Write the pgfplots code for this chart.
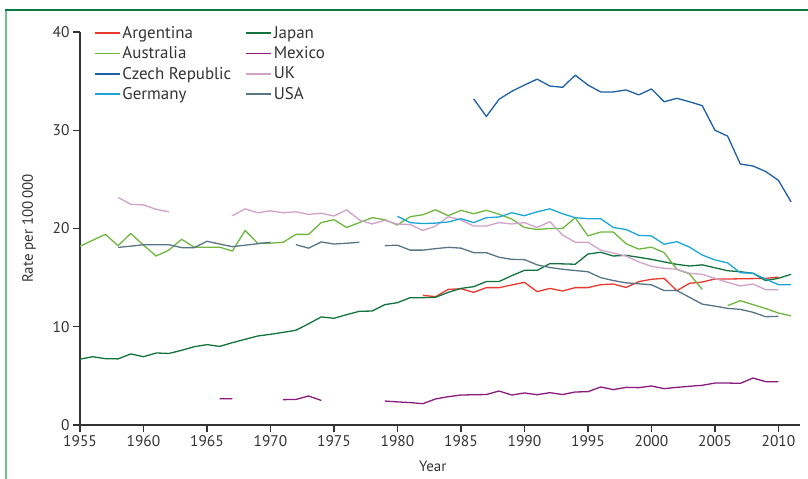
\documentclass[border=0pt]{standalone}
\usepackage{pgfplots}
\pgfplotsset{compat=1.18}
\usepackage{fontspec}
\setmainfont{PT Sans}
\definecolor{cArg}{HTML}{E8392E}
\definecolor{cAus}{HTML}{70B73F}
\definecolor{cCze}{HTML}{1C5FA5}
\definecolor{cGer}{HTML}{1BA6D6}
\definecolor{cJap}{HTML}{12733D}
\definecolor{cMex}{HTML}{8A1A7E}
\definecolor{cUK}{HTML}{CFA2CB}
\definecolor{cUSA}{HTML}{587585}
\definecolor{axgray}{HTML}{333333}
\definecolor{txtgray}{HTML}{333333}
\definecolor{frameT}{HTML}{0B7A3E}
\definecolor{frameL}{HTML}{6CC092}
\begin{document}
\begin{tikzpicture}[x=1bp,y=1bp]
\path[use as bounding box] (0,0) rectangle (808,479);
\draw[color=frameL, line width=1.6bp] (6,0) -- (6,469);
\draw[color=frameT, line width=1.6bp] (5.2,469) -- (808,469);
\begin{axis}[
  at={(80bp,54bp)}, anchor=south west, scale only axis,
  width=720bp, height=393bp,
  xmin=1955, xmax=2011.7, ymin=0, ymax=40,
  axis lines=left, axis line style={-, line width=1.2bp, color=axgray},
  xtick={1955,1960,...,2010}, ytick={0,10,20,30,40},
  tick align=outside, major tick length=7bp,
  tick style={line width=1.2bp, color=axgray},
  ticklabel style={font=\fontsize{15.5}{18}\selectfont, color=txtgray},
  /pgf/number format/assume math mode=true,
  xticklabel style={/pgf/number format/1000 sep={}},
  xlabel={Year}, ylabel={Rate per 100\,000},
  label style={font=\fontsize{15}{18}\selectfont, color=txtgray},
  xlabel style={at={(axis description cs:0.49,-0.104)}, anchor=center},
  ylabel style={yshift=10bp},
  unbounded coords=jump,
  every axis plot/.append style={line width=1.3bp, line join=round},
  legend columns=2, legend cell align=left,
  legend style={at={(axis description cs:0.015,1.025)}, anchor=north west,
    draw=none, fill=none, font=\fontsize{17}{20}\selectfont, text=txtgray,
    row sep=2.8bp, /tikz/every even column/.append style={column sep=12bp}},
  legend image code/.code={\draw[#1, line width=1.5bp] (0bp,0bp) -- (25bp,0bp);},
]
% Argentina
\addplot[color=cArg] coordinates {(1982,13.2)(1983,13.06)(1984,13.8)(1985,13.87)(1986,13.5)(1987,13.98)(1988,13.98)(1989,14.25)(1990,14.52)(1991,13.57)(1992,13.9)(1993,13.64)(1994,13.98)(1995,13.98)(1996,14.28)(1997,14.35)(1998,14.0)(1999,14.59)(2000,14.83)(2001,14.93)(2002,13.67)(2003,14.42)(2004,14.55)(2005,14.86)(2006,14.86)(2007,14.88)(2008,14.9)(2009,14.92)(2010,15.06)};
\addlegendentry{Argentina}
% Japan
\addplot[color=cJap] coordinates {(1955,6.7)(1956,6.95)(1957,6.75)(1958,6.73)(1959,7.23)(1960,6.95)(1961,7.33)(1962,7.28)(1963,7.6)(1964,7.97)(1965,8.18)(1966,8.0)(1967,8.38)(1968,8.72)(1969,9.06)(1970,9.23)(1971,9.43)(1972,9.64)(1973,10.3)(1974,11.0)(1975,10.86)(1976,11.23)(1977,11.57)(1978,11.6)(1979,12.25)(1980,12.45)(1981,12.96)(1982,12.96)(1983,13.0)(1984,13.5)(1985,13.9)(1986,14.08)(1987,14.6)(1988,14.6)(1989,15.2)(1990,15.74)(1991,15.74)(1992,16.42)(1993,16.4)(1994,16.36)(1995,17.4)(1996,17.58)(1997,17.2)(1998,17.27)(1999,17.07)(2000,16.86)(2001,16.6)(2002,16.35)(2003,16.18)(2004,16.3)(2005,16.0)(2006,15.7)(2007,15.6)(2008,15.44)(2009,14.7)(2010,14.93)(2011,15.34)};
\addlegendentry{Japan}
% Australia
\addplot[color=cAus] coordinates {(1955,18.2)(1956,18.8)(1957,19.4)(1958,18.25)(1959,19.5)(1960,18.3)(1961,17.2)(1962,17.8)(1963,18.9)(1964,18.1)(1965,18.1)(1966,18.1)(1967,17.7)(1968,19.8)(1969,18.5)(1970,18.5)(1971,18.6)(1972,19.4)(1973,19.4)(1974,20.6)(1975,20.9)(1976,20.1)(1977,20.6)(1978,21.1)(1979,20.9)(1980,20.36)(1981,21.2)(1982,21.4)(1983,21.9)(1984,21.3)(1985,21.85)(1986,21.5)(1987,21.85)(1988,21.45)(1989,20.97)(1990,20.1)(1991,19.9)(1992,20.0)(1993,20.0)(1994,21.1)(1995,19.24)(1996,19.64)(1997,19.64)(1998,18.45)(1999,17.9)(2000,18.1)(2001,17.55)(2002,15.85)(2003,15.37)(2004,13.8)(2005,nan)(2006,12.15)(2007,12.65)(2008,12.25)(2009,11.85)(2010,11.4)(2011,11.1)};
\addlegendentry{Australia}
% Mexico
\addplot[color=cMex] coordinates {(1966,2.68)(1967,2.68)(1968,nan)(1971,2.58)(1972,2.6)(1973,2.95)(1974,2.5)(1975,nan)(1979,2.44)(1980,2.35)(1981,2.28)(1982,2.17)(1983,2.65)(1984,2.88)(1985,3.05)(1986,3.08)(1987,3.1)(1988,3.46)(1989,3.05)(1990,3.26)(1991,3.08)(1992,3.29)(1993,3.1)(1994,3.36)(1995,3.39)(1996,3.87)(1997,3.6)(1998,3.83)(1999,3.8)(2000,3.97)(2001,3.7)(2002,3.83)(2003,3.94)(2004,4.04)(2005,4.27)(2006,4.27)(2007,4.24)(2008,4.78)(2009,4.41)(2010,4.41)};
\addlegendentry{Mexico}
% Czech Republic
\addplot[color=cCze] coordinates {(1986,33.2)(1987,31.4)(1988,33.15)(1989,33.96)(1990,34.6)(1991,35.2)(1992,34.5)(1993,34.37)(1994,35.6)(1995,34.6)(1996,33.9)(1997,33.9)(1998,34.1)(1999,33.6)(2000,34.2)(2001,32.9)(2002,33.25)(2003,32.9)(2004,32.5)(2005,30.0)(2006,29.4)(2007,26.56)(2008,26.36)(2009,25.8)(2010,24.9)(2011,22.7)};
\addlegendentry{Czech Republic}
% UK
\addplot[color=cUK] coordinates {(1958,23.17)(1959,22.46)(1960,22.4)(1961,21.95)(1962,21.7)(1963,nan)(1967,21.3)(1968,22.0)(1969,21.6)(1970,21.8)(1971,21.6)(1972,21.7)(1973,21.44)(1974,21.55)(1975,21.27)(1976,21.9)(1977,20.87)(1978,20.46)(1979,20.83)(1980,20.45)(1981,20.4)(1982,19.8)(1983,20.25)(1984,21.2)(1985,20.87)(1986,20.25)(1987,20.25)(1988,20.6)(1989,20.46)(1990,20.6)(1991,20.1)(1992,20.7)(1993,19.34)(1994,18.6)(1995,18.6)(1996,17.8)(1997,17.5)(1998,17.2)(1999,16.6)(2000,16.15)(2001,15.95)(2002,15.85)(2003,15.44)(2004,15.34)(2005,14.93)(2006,14.52)(2007,14.15)(2008,14.35)(2009,13.77)(2010,13.77)};
\addlegendentry{UK}
% Germany
\addplot[color=cGer] coordinates {(1980,21.24)(1981,20.6)(1982,20.5)(1983,20.55)(1984,20.66)(1985,21.0)(1986,20.6)(1987,21.1)(1988,21.17)(1989,21.6)(1990,21.3)(1991,21.7)(1992,22.0)(1993,21.5)(1994,21.1)(1995,21.0)(1996,21.0)(1997,20.1)(1998,19.9)(1999,19.3)(2000,19.24)(2001,18.4)(2002,18.66)(2003,18.1)(2004,17.3)(2005,16.8)(2006,16.5)(2007,15.5)(2008,15.44)(2009,14.85)(2010,14.28)(2011,14.28)};
\addlegendentry{Germany}
% USA
\addplot[color=cUSA] coordinates {(1958,18.08)(1959,18.2)(1960,18.35)(1961,18.35)(1962,18.35)(1963,18.05)(1964,18.05)(1965,18.7)(1966,18.42)(1967,18.15)(1968,18.3)(1969,18.45)(1970,18.6)(1971,nan)(1972,18.35)(1973,18.0)(1974,18.63)(1975,18.42)(1976,18.5)(1977,18.6)(1978,nan)(1979,18.25)(1980,18.3)(1981,17.8)(1982,17.8)(1983,17.95)(1984,18.08)(1985,18.0)(1986,17.54)(1987,17.54)(1988,17.07)(1989,16.86)(1990,16.83)(1991,16.3)(1992,16.03)(1993,15.85)(1994,15.72)(1995,15.6)(1996,15.0)(1997,14.7)(1998,14.47)(1999,14.37)(2000,14.27)(2001,13.68)(2002,13.68)(2003,13.0)(2004,12.3)(2005,12.1)(2006,11.87)(2007,11.77)(2008,11.47)(2009,11.02)(2010,11.06)};
\addlegendentry{USA}
\end{axis}
\end{tikzpicture}
\end{document}
